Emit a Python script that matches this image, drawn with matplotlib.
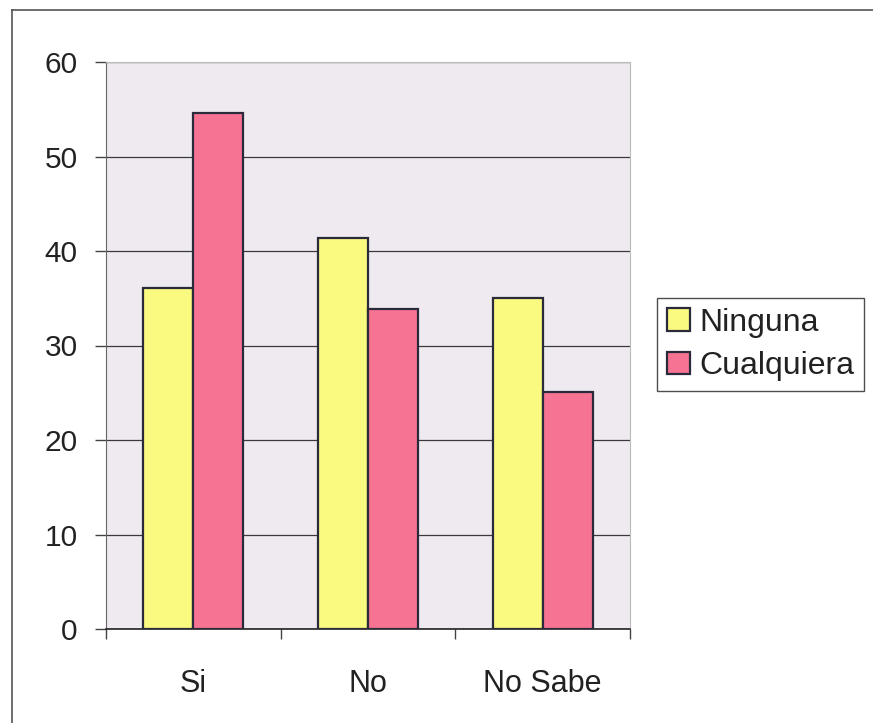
import matplotlib
matplotlib.use("Agg")
import matplotlib.pyplot as plt
import numpy as np
from matplotlib.lines import Line2D
from matplotlib.ticker import FixedLocator, NullFormatter

plt.rcParams['font.family'] = ['Liberation Sans', 'DejaVu Sans']

categories = ["Si", "No", "No Sabe"]
ninguna = [36.1, 41.4, 35.0]
cualquiera = [54.6, 33.9, 25.1]
series_names = ["Ninguna", "Cualquiera"]
y_ticks = [0, 10, 20, 30, 40, 50, 60]

yellow = "#FAFA80"
pink = "#F77393"
edge = "#2A2A3A"

fig = plt.figure(figsize=(8.73, 7.23), dpi=100)
ax = fig.add_axes([106 / 873, 1 - 629 / 723, 524 / 873, 567 / 723])
ax.set_facecolor("#EEEAF0")

x = np.arange(len(categories)) + 0.5
w = 1 / 3.5
ax.bar(x - w / 2, ninguna, w, color=yellow, edgecolor=edge, linewidth=1.6,
       label=series_names[0], zorder=3)
ax.bar(x + w / 2, cualquiera, w, color=pink, edgecolor=edge, linewidth=1.6,
       label=series_names[1], zorder=3)

ax.set_xlim(0, len(categories))
ax.set_ylim(0, 60)
ax.set_yticks(y_ticks)
ax.yaxis.grid(True, color="#3a3a3a", linewidth=0.9, zorder=1)

# category boundaries carry the tick marks; labels sit at the centres
ax.xaxis.set_major_locator(FixedLocator(np.arange(len(categories) + 1)))
ax.xaxis.set_major_formatter(NullFormatter())
ax.xaxis.set_minor_locator(FixedLocator(x))
ax.set_xticklabels(categories, minor=True)
ax.tick_params(axis="x", which="major", direction="out", length=7.5, width=1, color="#444444")
ax.tick_params(axis="x", which="minor", length=0, pad=29, labelsize=22, labelcolor="#222222")
ax.tick_params(axis="y", direction="out", length=8, width=1, color="#444444",
               pad=12.5, labelsize=21.5, labelcolor="#222222")

for s in ["top", "right"]:
    ax.spines[s].set_color("#bbbbbb")
    ax.spines[s].set_linewidth(0.8)
ax.spines["left"].set_color("#666666")
ax.spines["bottom"].set_color("#222222")
ax.spines["bottom"].set_linewidth(1.2)

leg = ax.legend(loc="upper left", bbox_to_anchor=(657 / 873, 1 - 298 / 723),
                bbox_transform=fig.transFigure, fontsize=23, frameon=True,
                fancybox=False, edgecolor="#222222", handlelength=0.72,
                handleheight=0.7, handletextpad=0.3, borderpad=0.3,
                labelspacing=0.42, borderaxespad=0)
leg.get_frame().set_linewidth(1.0)
for t in leg.get_texts():
    t.set_color("#222222")

# outer chart frame (top and left edges)
fig.add_artist(Line2D([12 / 873, 1.0], [1 - 10 / 723, 1 - 10 / 723],
                      transform=fig.transFigure, color="#555555", linewidth=1.2))
fig.add_artist(Line2D([12 / 873, 12 / 873], [0.0, 1 - 10 / 723],
                      transform=fig.transFigure, color="#555555", linewidth=1.2))

fig.savefig("out.png", dpi=100)
